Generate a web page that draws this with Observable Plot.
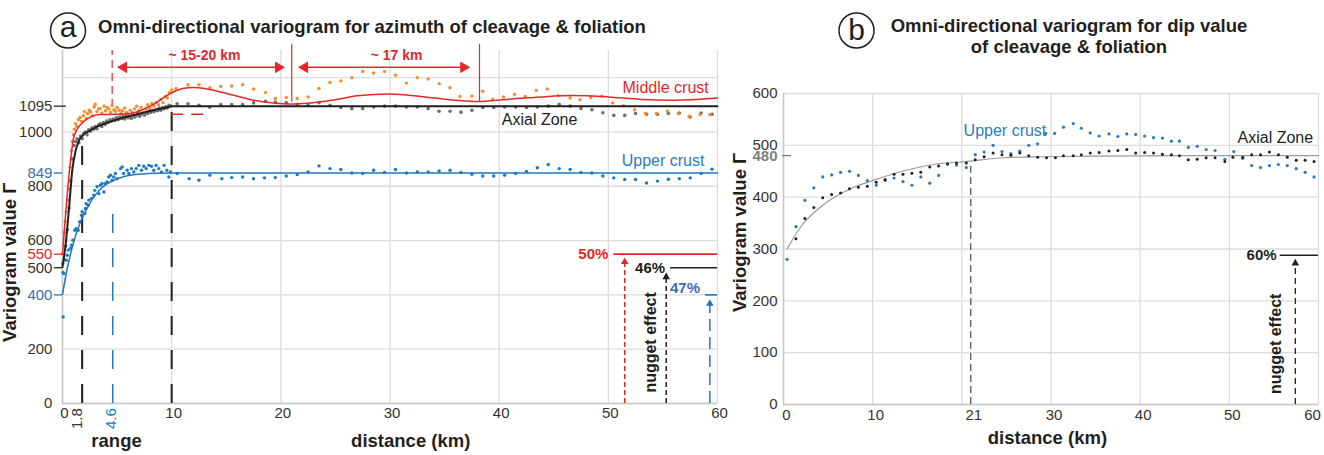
<!DOCTYPE html>
<html><head><meta charset="utf-8">
<script src="https://cdn.jsdelivr.net/npm/d3@7"></script>
<script src="https://cdn.jsdelivr.net/npm/@observablehq/plot@0.6"></script>
<style>
body{margin:0;background:#fff;}
#wrap{position:relative;width:1324px;height:455px;overflow:hidden;background:#fff;font-family:'Liberation Sans',Arial,sans-serif;}
#pa,#pb{position:absolute;top:0}
#pa{left:0}#pb{left:720px}
#ov{position:absolute;left:0;top:0;pointer-events:none}
</style></head><body>
<div id="wrap"><div id="pa"></div><div id="pb"></div>
<svg id="ov" width="1324" height="455" font-family="'Liberation Sans',Arial,sans-serif">
<circle cx="68" cy="30.5" r="17.5" fill="none" stroke="#231f20" stroke-width="1.5"/>
<text x="68" y="36.5" text-anchor="middle" font-size="30" fill="#231f20">a</text>
<text x="98" y="33.3" font-size="18.5" font-weight="bold" fill="#231f20">Omni-directional variogram for azimuth of cleavage &amp; foliation</text>
<circle cx="856.5" cy="30.5" r="17.5" fill="none" stroke="#231f20" stroke-width="1.5"/>
<text x="856.5" y="39.5" text-anchor="middle" font-size="30" fill="#231f20">b</text>
<text x="1069" y="31.7" text-anchor="middle" font-size="18.5" font-weight="bold" fill="#231f20">Omni-directional variogram for dip value</text>
<text x="1069" y="53" text-anchor="middle" font-size="18.5" font-weight="bold" fill="#231f20">of cleavage &amp; foliation</text>
</svg></div>
<script>
// ---------- DATA: panel a (azimuth) ----------
const xGrid = [0,10,20,30,40,50,60];
const aYGrid = [0,200,400,600,800,1000,1200];
const aYTicksBlack = [0,200,500,600,800,1000,1095];
const aYTicksBlue = [400,849];
const aYTicksRed = [550];
const aXTickLabels = [0,10,20,30,40,50,60];
const aRanges = [1.8,4.6];

const orangeA = [
[0.05,550],[0.15,630],[0.25,670],[0.35,706],[0.5,750],[0.6,790],[0.7,870],[0.8,930],[0.9,965],[1.0,990],[1.1,1010],[1.2,1030],[1.3,1020],[1.45,1045],[1.6,1053],[1.75,1040],[1.9,1060],[2.0,1075],[2.15,1050],[2.3,1068],[2.45,1080],[2.6,1074],[2.75,1060],[2.9,1092],[3.0,1102],[3.15,1075],[3.3,1085],[3.45,1086],[3.6,1070],[3.8,1095],[3.95,1078],[4.1,1090],[4.25,1085],[4.4,1072],[4.55,1098],[4.7,1082],[4.85,1076],[5.0,1090],[5.2,1080],[5.35,1068],[5.5,1078],[5.7,1088],[5.85,1072],[6.0,1065],[6.2,1080],[6.4,1072],[6.6,1085],[6.8,1095],[7.0,1078],[7.2,1090],[7.4,1070],[7.6,1085],[7.8,1100],[8.0,1088],[8.2,1105],[8.4,1095],[8.6,1110],[8.8,1100],[9.0,1120],[9.2,1108],[9.4,1130],[9.6,1125],[9.8,1145],[10.0,1155],
[10.4,1160],[11.5,1174],[12.5,1174],[13.5,1163],[14.5,1168],[15.5,1169],[16.5,1174],[17.5,1158],[18.6,1145],[19.5,1123],[20.5,1127],[21.5,1123],[22.5,1129],[23.5,1160],[24.5,1182],[25.5,1188],[26.5,1200],[27.5,1223],[28.5,1217],[29.5,1223],[30.5,1209],[31.5,1180],[32.5,1200],[33.5,1195],[34.5,1178],[35.5,1163],[36.4,1131],[37.5,1132],[38.5,1150],[39.4,1121],[40.4,1129],[41.4,1139],[42.4,1131],[43.4,1153],[44.4,1158],[45.4,1134],[46.5,1125],[47.4,1119],[48.4,1127],[49.4,1132],[50.4,1107],[51.4,1097],[52.4,1082],[53.4,1069],[54.4,1068],[55.4,1077],[56.4,1068],[57.4,1058],[58.4,1064],[59.3,1064]];

const grayA = [
[0.05,482],[0.15,530],[0.3,580],[0.45,640],[0.6,720],[0.75,820],[0.9,900],[1.05,950],[1.2,965],[1.35,975],[1.5,960],[1.65,985],[1.8,975],[1.95,995],[2.1,1000],[2.25,990],[2.4,1008],[2.55,1003],[2.7,1015],[2.85,1010],[3.0,1020],[3.15,1012],[3.3,1025],[3.45,1030],[3.6,1020],[3.75,1035],[3.9,1028],[4.05,1040],[4.2,1035],[4.35,1045],[4.5,1040],[4.65,1048],[4.8,1042],[4.95,1052],[5.1,1045],[5.25,1055],[5.4,1050],[5.55,1058],[5.7,1048],[5.85,1060],[6.0,1052],[6.15,1058],[6.3,1050],[6.45,1062],[6.6,1055],[6.75,1060],[6.9,1068],[7.05,1058],[7.2,1065],[7.35,1070],[7.5,1062],[7.65,1072],[7.8,1068],[7.95,1078],[8.1,1072],[8.25,1080],[8.4,1075],[8.55,1082],[8.7,1078],[8.85,1088],[9.0,1080],[9.15,1090],[9.3,1085],[9.45,1093],[9.6,1088],[9.75,1098],[9.9,1095],
[10.5,1104],[11.5,1104],[12.5,1098],[13.5,1091],[14.5,1101],[15.5,1101],[16.5,1101],[17.5,1107],[18.6,1113],[19.5,1110],[20.5,1108],[21.5,1102],[22.5,1098],[23.5,1108],[24.5,1098],[25.5,1090],[26.5,1086],[27.5,1086],[28.5,1092],[29.5,1095],[30.5,1095],[31.5,1092],[32.5,1092],[33.5,1086],[34.5,1076],[35.5,1076],[36.5,1073],[37.5,1080],[38.5,1090],[39.5,1090],[40.5,1092],[41.5,1092],[42.5,1090],[43.5,1092],[44.5,1095],[45.5,1102],[46.5,1095],[47.5,1086],[48.5,1082],[49.5,1071],[50.5,1061],[51.5,1061],[52.5,1068],[53.5,1065],[54.5,1065],[55.5,1068],[56.5,1070],[57.5,1055],[58.5,1070],[59.5,1065]];

const blueA = [
[0.06,319],[0.12,479],[0.03,516],[0.34,528],[0.43,546],[0.52,565],[0.73,571],[0.82,583],[0.95,601],[1.13,638],[1.25,644],[1.43,638],[1.56,669],[1.74,693],[1.8,706],[2.05,700],[2.1,718],[2.17,736],[2.35,730],[2.41,749],[2.66,755],[2.87,767],[2.96,785],[3.17,798],[3.33,773],[3.48,804],[3.63,810],[3.79,779],[3.94,810],[4.09,816],[4.24,834],[4.4,841],[4.55,822],[4.7,834],[4.85,847],[5.0,828],[5.31,865],[5.47,871],[5.6,847],[5.92,859],[6.08,847],[6.32,865],[6.53,853],[6.75,865],[6.99,877],[7.24,859],[7.45,874],[7.67,865],[7.91,877],[8.15,874],[8.36,859],[8.58,877],[8.82,865],[9.07,853],[9.31,877],[9.56,859],[9.74,834],[9.89,853],
[10.5,847],[11.6,828],[12.5,822],[13.5,841],[14.6,828],[15.5,832],[16.5,834],[17.5,828],[18.5,831],[19.5,832],[20.5,838],[21.5,843],[22.5,853],[23.5,875],[24.5,865],[25.5,862],[26.5,849],[27.5,847],[28.5,859],[29.5,851],[30.5,862],[31.5,849],[32.5,853],[33.5,853],[34.5,856],[35.5,859],[36.5,851],[37.5,844],[38.5,838],[39.5,838],[40.5,841],[41.5,847],[42.5,855],[43.5,868],[44.5,880],[45.5,865],[46.5,862],[47.5,851],[48.5,849],[49.5,838],[50.5,831],[51.5,825],[52.5,825],[53.5,812],[54.5,819],[55.5,826],[56.5,828],[57.5,831],[58.5,847],[59.5,863]];

const redFitA = [[0,550],[0.27,690],[0.5,800],[0.75,900],[1.0,975],[1.35,1010],[2.1,1043],[2.7,1058],[3.5,1064],[5,1065],[6.5,1070],[7.5,1085],[8.5,1105],[9.5,1133],[10.3,1150],[11,1160],[12,1164],[13,1160],[14,1152],[15.7,1135],[17.5,1117],[19.3,1107],[21,1103],[22.5,1106],[25,1119],[27,1133],[30,1140],[33,1130],[36,1117],[38,1112],[40.7,1120],[43.8,1129],[46.8,1134],[50,1129],[53,1120],[56,1117],[60,1125]];
const blackFitA = [[0,503],[0.3,590],[0.6,720],[0.9,860],[1.2,930],[1.5,968],[1.8,985],[2.5,1005],[3.5,1025],[4.5,1040],[5.5,1052],[6.5,1062],[7.5,1072],[8.5,1082],[9.5,1090],[10,1095],[60,1095]];
const blueFitA = [[0,402],[0.45,500],[0.9,577],[1.65,669],[2.4,730],[3.1,772],[3.9,804],[4.6,820],[5.5,834],[6.5,842],[8.5,848],[10,849],[60,849]];

const nuggetA = [{pct:"50%", sill:550},{pct:"46%", sill:500},{pct:"47%", sill:400}];

// ---------- DATA: panel b (dip) ----------
const bYGrid = [0,100,200,300,400,500,600];
const bXTickLabels = [0,10,21,30,40,50,60];
const bSill = 480;
const bRange = 21;
const blueB = [[0.4,280],[1.4,343],[2.4,394],[3.4,418],[4.4,439],[5.4,443],[6.4,448],[7.4,450],[8.4,442],[9.4,432],[10.4,423],[11.4,432],[12.4,437],[13.4,430],[14.4,423],[15.4,439],[16.4,427],[17.4,442],[18.4,464],[19.4,462],[20.5,457],[21.5,482],[22.5,487],[23.5,500],[24.5,488],[25.5,484],[26.5,489],[27.5,500],[28.5,503],[29.4,523],[30.4,523],[31.4,535],[32.5,542],[33.4,533],[34.4,524],[35.4,518],[36.5,522],[37.5,517],[38.5,522],[39.5,521],[40.5,518],[41.5,515],[42.5,514],[43.5,508],[44.4,508],[45.4,496],[46.4,498],[47.4,492],[48.4,490],[49.5,473],[50.5,488],[51.5,475],[52.5,461],[53.5,457],[54.5,461],[55.5,463],[56.5,461],[57.5,455],[58.5,448],[59.5,439]];
const blackB = [[1.4,320],[2.4,359],[3.4,380],[4.4,399],[5.4,405],[6.4,408],[7.4,416],[8.4,419],[9.4,421],[10.4,429],[11.4,434],[12.4,444],[13.4,444],[14.4,446],[15.4,448],[16.4,458],[17.4,460],[18.4,464],[19.4,466],[20.5,466],[21.5,472],[22.5,478],[23.5,485],[24.5,482],[25.5,481],[26.5,485],[27.5,480],[28.5,477],[29.5,476],[30.5,476],[31.4,480],[32.5,480],[33.4,482],[34.4,485],[35.4,486],[36.5,489],[37.5,490],[38.5,492],[39.5,485],[40.5,486],[41.5,485],[42.5,483],[43.5,482],[44.4,480],[45.4,472],[46.4,473],[47.4,476],[48.4,476],[49.5,469],[50.4,477],[51.5,477],[52.5,482],[53.5,482],[54.5,487],[55.5,482],[56.5,477],[57.5,471],[58.5,471],[59.5,469]];
const fitB = [[0.4,300],[1.9,342],[4.15,381],[7.9,419],[10,432],[13.5,451],[17.2,464],[20.6,469],[24.7,476],[28.8,478],[35,479],[45,480],[60,480]];
const nuggetB = [{pct:"60%", sill:288}];

// ---------- STYLE ----------
const FONT = "'Liberation Sans', Arial, sans-serif";
const RED="#e8262a", ORANGE="#f58b2b", GRAY="#6d6e71", BLUE="#1f78c1", LBLUE="#3d6db5", BLK="#231f20", GRID="#dcdcdc", TXT="#333";
const X = d=>d[0], Y = d=>d[1];

// ---------- PANEL A ----------
const pa = Plot.plot({
  width:720, height:455, marginLeft:62, marginRight:3, marginTop:50, marginBottom:52,
  x:{domain:[0,60], axis:null}, y:{domain:[0,1300], axis:null},
  style:{fontFamily:FONT, overflow:"visible", background:"transparent"},
  marks:[
    Plot.ruleX(xGrid, {y1:0, y2:1300, stroke:GRID, strokeWidth:1.3}),
    Plot.ruleY(aYGrid, {x1:0, x2:60, stroke:GRID, strokeWidth:1.3}),
    Plot.ruleX([0], {y1:0, y2:1300, stroke:"#c8c8c8", strokeWidth:1.5}),
    Plot.ruleY([0], {x1:0, x2:60, stroke:"#c8c8c8", strokeWidth:1.5}),
    // range markers
    Plot.ruleX([1.8], {y1:0, y2:985, stroke:BLK, strokeWidth:2, strokeDasharray:"19,15"}),
    Plot.ruleX([10], {y1:0, y2:1095, stroke:BLK, strokeWidth:2, strokeDasharray:"19,15"}),
    Plot.ruleX([4.6], {y1:0, y2:750, stroke:BLUE, strokeWidth:1.5, strokeDasharray:"19,15"}),
    Plot.ruleY([1065], {x1:10, x2:13.6, stroke:RED, strokeWidth:1.5, strokeDasharray:"12,8"}),
    // periodicity annotation
    Plot.ruleX([4.55], {y1:1090, y2:1300, stroke:RED, strokeWidth:1.2, strokeDasharray:"8,5"}),
    Plot.ruleX([21.0], {y1:1110, y2:1323, stroke:RED, strokeWidth:1.2}),
    Plot.ruleX([38.2], {y1:1110, y2:1323, stroke:RED, strokeWidth:1.2}),
    Plot.ruleY([1238], {x1:5.13, x2:20.2, stroke:RED, strokeWidth:1.5}),
    Plot.ruleY([1238], {x1:21.7, x2:37.2, stroke:RED, strokeWidth:1.5}),
    Plot.dot([[19.77,1238],[36.74,1238]], {x:X, y:Y, symbol:"triangle", r:4.3, rotate:90, fill:RED}),
    Plot.dot([[5.61,1238],[22.19,1238]], {x:X, y:Y, symbol:"triangle", r:4.3, rotate:-90, fill:RED}),
    Plot.text(["~ 15-20 km"], {x:13.0, y:1282, text:d=>d, fill:RED, fontSize:14, fontWeight:"bold"}),
    Plot.text(["~ 17 km"], {x:30.6, y:1282, text:d=>d, fill:RED, fontSize:14, fontWeight:"bold"}),
    // points
    Plot.dot(grayA, {x:X, y:Y, r:1.8, fill:GRAY}),
    Plot.dot(orangeA, {x:X, y:Y, r:1.7, fill:ORANGE}),
    Plot.dot(blueA, {x:X, y:Y, r:1.7, fill:BLUE}),
    // fitted models
    Plot.line(blackFitA, {x:X, y:Y, stroke:BLK, strokeWidth:2, curve:"monotone-x"}),
    Plot.line(redFitA, {x:X, y:Y, stroke:RED, strokeWidth:1.5, curve:"monotone-x"}),
    Plot.line(blueFitA, {x:X, y:Y, stroke:BLUE, strokeWidth:1.5, curve:"monotone-x"}),
    // series labels
    Plot.text(["Middle crust"], {x:59.2, y:1161, text:d=>d, fill:RED, fontSize:16, textAnchor:"end"}),
    Plot.text(["Axial Zone"], {x:43.7, y:1043, text:d=>d, fill:BLK, fontSize:16}),
    Plot.text(["Upper crust"], {x:58.8, y:895, text:d=>d, fill:"#2a7cc0", fontSize:16, textAnchor:"end"}),
    // nugget effect
    Plot.ruleY(nuggetA.slice(0,1), {y:"sill", x1:50.5, x2:60, stroke:RED, strokeWidth:1.6}),
    Plot.ruleY(nuggetA.slice(1,2), {y:"sill", x1:55.7, x2:60, stroke:BLK, strokeWidth:1.6}),
    Plot.ruleY(nuggetA.slice(2,3), {y:"sill", x1:58.9, x2:60, stroke:BLUE, strokeWidth:1.6}),
    Plot.ruleX([51.5], {y1:0, y2:525, stroke:RED, strokeWidth:1.5, strokeDasharray:"5,3"}),
    Plot.ruleX([55.3], {y1:0, y2:470, stroke:BLK, strokeWidth:1.5, strokeDasharray:"5,3"}),
    Plot.ruleX([59.3], {y1:0, y2:372, stroke:BLUE, strokeWidth:1.5, strokeDasharray:"12,6"}),
    Plot.dot([[51.5,521.5]], {x:X, y:Y, symbol:"triangle", r:2.8, fill:RED}),
    Plot.dot([[55.3,466]], {x:X, y:Y, symbol:"triangle", r:2.8, fill:BLK}),
    Plot.dot([[59.3,368]], {x:X, y:Y, symbol:"triangle", r:2.8, fill:BLUE}),
    Plot.text(nuggetA.slice(0,1), {x:50.0, y:"sill", text:"pct", fill:RED, fontSize:15, fontWeight:"bold", textAnchor:"end"}),
    Plot.text(nuggetA.slice(1,2), {x:55.2, y:"sill", text:"pct", fill:BLK, fontSize:15, fontWeight:"bold", textAnchor:"end"}),
    Plot.text(nuggetA.slice(2,3), {x:58.4, y:d=>d.sill+25, text:"pct", fill:LBLUE, fontSize:15, fontWeight:"bold", textAnchor:"end"}),
    Plot.text(["nugget effect"], {x:53.9, y:225, text:d=>d, rotate:-90, fill:BLK, fontSize:16, fontWeight:"bold"}),
    // y axis
    Plot.text(aYTicksBlack, {x:-0.92, y:d=>d, text:d=>String(d), fill:TXT, fontSize:15, textAnchor:"end"}),
    Plot.text(aYTicksBlue, {x:-0.92, y:d=>d, text:d=>String(d), fill:LBLUE, fontSize:15, textAnchor:"end"}),
    Plot.text(aYTicksRed, {x:-0.92, y:d=>d, text:d=>String(d), fill:RED, fontSize:15, textAnchor:"end"}),
    Plot.ruleY([1095], {x1:-0.75, x2:0.35, stroke:BLK, strokeWidth:1.3}),
    Plot.ruleY([500], {x1:-0.75, x2:0, stroke:BLK, strokeWidth:1.3}),
    Plot.ruleY([550], {x1:-0.75, x2:0, stroke:RED, strokeWidth:1.3}),
    Plot.ruleY([849, 400], {x1:-0.75, x2:0, stroke:BLUE, strokeWidth:1.3}),
    Plot.text(["Variogram value Γ"], {x:-4.76, y:520, text:d=>d, rotate:-90, fill:BLK, fontSize:18.5, fontWeight:"bold"}),
    // x axis
    Plot.text(aXTickLabels, {x:d=>d, y:-36, dx:2, text:d=>String(d), fill:TXT, fontSize:15}),
    Plot.text(aRanges.slice(0,1), {x:d=>d-0.45, y:-17, text:d=>String(d), rotate:-90, textAnchor:"end", fill:TXT, fontSize:15}),
    Plot.text(aRanges.slice(1,2), {x:d=>d-0.1, y:-17, text:d=>String(d), rotate:-90, textAnchor:"end", fill:BLUE, fontSize:15}),
    Plot.text(["range"], {x:4.95, y:-138, text:d=>d, fill:BLK, fontSize:18.5, fontWeight:"bold"}),
    Plot.text(["distance (km)"], {x:31.9, y:-138, text:d=>d, fill:BLK, fontSize:18.5, fontWeight:"bold"})
  ]
});
document.getElementById("pa").append(pa);

// ---------- PANEL B ----------
const pb = Plot.plot({
  width:604, height:455, marginLeft:63, marginRight:6, marginTop:93, marginBottom:51,
  x:{domain:[0,60], axis:null}, y:{domain:[0,600], axis:null},
  style:{fontFamily:FONT, overflow:"visible", background:"transparent"},
  marks:[
    Plot.ruleX(xGrid, {y1:0, y2:600, stroke:GRID, strokeWidth:1.3}),
    Plot.ruleY(bYGrid, {x1:0, x2:60, stroke:GRID, strokeWidth:1.3}),
    Plot.ruleX([0], {y1:0, y2:600, stroke:"#c8c8c8", strokeWidth:1.5}),
    Plot.ruleY([0], {x1:0, x2:60, stroke:"#c8c8c8", strokeWidth:1.5}),
    Plot.ruleX([bRange], {y1:0, y2:465, stroke:"#555", strokeWidth:1.3, strokeDasharray:"7,4"}),
    Plot.line(fitB, {x:X, y:Y, stroke:"#9a9a9a", strokeWidth:1.2, curve:"monotone-x"}),
    Plot.dot(blueB, {x:X, y:Y, r:1.6, fill:"#2b7bba"}),
    Plot.dot(blackB, {x:X, y:Y, r:1.5, fill:BLK}),
    Plot.text(["Upper crust"], {x:20.2, y:528.6, text:d=>d, fill:"#2a7cc0", fontSize:16, textAnchor:"start"}),
    Plot.text(["Axial Zone"], {x:59.4, y:515, text:d=>d, fill:BLK, fontSize:16, textAnchor:"end"}),
    // nugget
    Plot.ruleY(nuggetB, {y:"sill", x1:55.7, x2:60, stroke:BLK, strokeWidth:1.6}),
    Plot.ruleX([57.4], {y1:0, y2:268, stroke:BLK, strokeWidth:1.3, strokeDasharray:"6,4"}),
    Plot.dot([[57.4,272.6]], {x:X, y:Y, symbol:"triangle", r:2.8, fill:BLK}),
    Plot.text(nuggetB, {x:55.3, y:"sill", text:"pct", fill:BLK, fontSize:15, fontWeight:"bold", textAnchor:"end"}),
    Plot.text(["nugget effect"], {x:55.2, y:117, text:d=>d, rotate:-90, fill:BLK, fontSize:16, fontWeight:"bold"}),
    // y axis
    Plot.text(bYGrid, {x:-0.67, y:d=>d, text:d=>String(d), fill:TXT, fontSize:15, textAnchor:"end"}),
    Plot.text([bSill], {x:-0.67, y:d=>d, text:d=>String(d), fill:"#808080", fontSize:15, fontWeight:"bold", textAnchor:"end"}),
    Plot.ruleY([bSill], {x1:-0.1, x2:0.9, stroke:"#555", strokeWidth:1}),
    Plot.text(["Variogram value Γ"], {x:-4.82, y:332, text:d=>d, rotate:-90, fill:BLK, fontSize:18.5, fontWeight:"bold"}),
    // x axis
    Plot.text(bXTickLabels.slice(0,6), {x:d=>d, y:-21, dx:3, text:d=>String(d), fill:TXT, fontSize:15}),
    Plot.text(bXTickLabels.slice(6), {x:d=>d, y:-21, dx:-6, text:d=>String(d), fill:TXT, fontSize:15}),
    Plot.text(["distance (km)"], {x:29.6, y:-65.6, text:d=>d, fill:BLK, fontSize:18.5, fontWeight:"bold"})
  ]
});
document.getElementById("pb").append(pb);
</script>
</body></html>
